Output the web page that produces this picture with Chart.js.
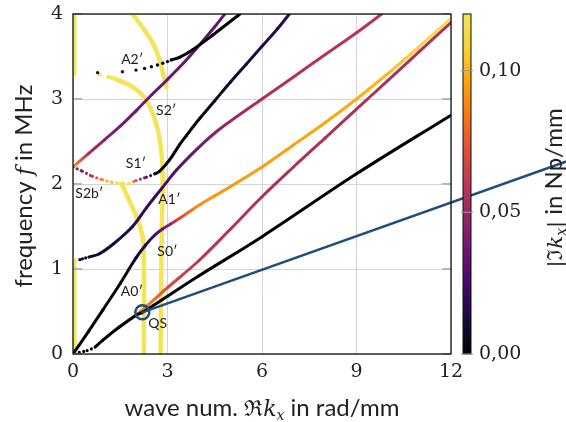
<!DOCTYPE html>
<html>
<head>
<meta charset="utf-8">
<script src="https://cdn.jsdelivr.net/npm/chart.js@4.4.1/dist/chart.umd.min.js"></script>
<style>
  html, body { margin: 0; padding: 0; background: #fff; }
  #wrap { width: 566px; height: 422px; }
</style>
</head>
<body>
<div id="wrap"><canvas id="chart"></canvas></div>
<script>
// ---- data: k = Re(kx) in rad/mm, f in MHz, att = |Im kx| in Np/mm ----
const xTicks = [0, 3, 6, 9, 12];
const yTicks = [0, 1, 2, 3, 4];
const cbTicks = [0, 0.05, 0.10];

// yellow (strongly damped) branches
const yLowK = [0.04, 0.04], yLowF = [0, 1.1], yLowAtt = [0.12, 0.12];
const yTopK = [0.04, 0.04], yTopF = [3.3, 4.0], yTopAtt = [0.12, 0.12];
const arcK = [1.89, 2.27, 2.56, 2.75, 2.87, 2.97];
const arcF = [4.0, 3.81, 3.64, 3.46, 3.28, 3.14];
const arcAtt = [0.12, 0.12, 0.12, 0.12, 0.12, 0.12];
const s2yK = [1.32, 1.9, 2.32, 2.64, 2.8, 2.85, 2.82, 2.8, 2.78];
const s2yF = [3.24, 3.14, 2.99, 2.71, 2.4, 2.01, 1.5, 0.8, 0];
const s2yAtt = [0.12, 0.12, 0.12, 0.12, 0.12, 0.12, 0.12, 0.12, 0.12];
const s2yDotK = [0.84, 1.12, 1.22], s2yDotF = [3.29, 3.26, 3.25], s2yDotAtt = [0.12, 0.12, 0.12];
const s0yK = [1.55, 1.73, 2.02, 2.21, 2.25, 2.25];
const s0yF = [2.0, 1.85, 1.61, 1.38, 1.14, 0];
const s0yAtt = [0.12, 0.12, 0.12, 0.12, 0.12, 0.12];

// S2' (from 2.2 MHz at k=0)
const s2K = [0, 0.5, 1, 1.5, 2, 2.5, 3, 3.5, 4, 4.5, 4.82];
const s2F = [2.2, 2.36, 2.52, 2.68, 2.86, 3.05, 3.23, 3.42, 3.63, 3.85, 4.0];
const s2Att = [0.09, 0.055, 0.045, 0.04, 0.038, 0.037, 0.036, 0.036, 0.035, 0.035, 0.035];

// S2b' dotted part, then S1'
const s2bK = [0, 0.3, 0.62, 0.94, 1.25, 1.48, 1.79, 2.0, 2.33, 2.6];
const s2bF = [2.2, 2.15, 2.09, 2.05, 2.02, 2.01, 2.01, 2.04, 2.08, 2.12];
const s2bAtt = [0.04, 0.045, 0.06, 0.09, 0.105, 0.12, 0.12, 0.07, 0.035, 0.01];
const s1K = [2.6, 2.75, 3.06, 3.38, 3.6, 4.02, 4.5, 5, 5.5, 6, 6.5, 6.87];
const s1F = [2.12, 2.15, 2.28, 2.46, 2.57, 2.77, 2.98, 3.2, 3.41, 3.62, 3.83, 4.0];
const s1Att = [0.005, 0, 0, 0, 0, 0.003, 0.006, 0.009, 0.012, 0.015, 0.017, 0.018];

// A2' : sparse solver points first, then a solid branch
const a2DotK = [0.78, 1.57, 2.0, 2.27, 2.49, 2.68, 2.85, 3.0, 3.12];
const a2DotF = [3.31, 3.32, 3.34, 3.36, 3.38, 3.40, 3.42, 3.44, 3.46];
const a2DotAtt = [0.016, 0.012, 0.009, 0.007, 0.005, 0.004, 0.003, 0.002, 0.002];
const a2K = [3.12, 3.38, 3.8, 4.43, 5.3];
const a2F = [3.46, 3.49, 3.58, 3.75, 4.0];
const a2Att = [0.002, 0.001, 0, 0, 0];

// A1'
const a1DotK = [0.22, 0.3, 0.4, 0.5];
const a1DotF = [1.11, 1.12, 1.13, 1.14];
const a1DotAtt = [0.005, 0.006, 0.007, 0.008];
const a1K = [0.5, 0.84, 1.3, 1.89, 2.33, 2.8, 3.3, 3.96, 4.5, 5, 6, 7, 8, 9, 9.8];
const a1F = [1.14, 1.18, 1.3, 1.5, 1.72, 1.94, 2.17, 2.42, 2.6, 2.74, 3.0, 3.26, 3.52, 3.78, 4.0];
const a1Att = [0.008, 0.01, 0.013, 0.016, 0.02, 0.024, 0.03, 0.038, 0.045, 0.05, 0.055, 0.057, 0.058, 0.058, 0.058];

// steep branch from the origin, turning orange past the damped branches
const s0K = [0, 0.5, 0.95, 1.5, 2.0, 2.3, 2.6, 2.84, 3.1, 3.4, 4.0, 4.5, 5, 6, 7, 8, 9, 10, 11, 12];
const s0F = [0, 0.27, 0.52, 0.83, 1.13, 1.28, 1.4, 1.47, 1.53, 1.6, 1.75, 1.86, 1.97, 2.2, 2.46, 2.72, 3.0, 3.3, 3.62, 3.95];
const s0Att = [0, 0, 0, 0.002, 0.008, 0.015, 0.025, 0.035, 0.05, 0.07, 0.09, 0.092, 0.093, 0.094, 0.095, 0.096, 0.098, 0.102, 0.11, 0.12];

// mode crossing the QS point (magenta)
const mK = [1.45, 2.2, 3, 4, 5, 6, 7, 8, 9, 10, 11, 12];
const mF = [0.31, 0.52, 0.78, 1.1, 1.47, 1.85, 2.2, 2.54, 2.88, 3.22, 3.56, 3.9];
const mAtt = [0.035, 0.09, 0.07, 0.06, 0.058, 0.056, 0.056, 0.056, 0.056, 0.056, 0.056, 0.056];

// QS (quasi-Scholte), black
const qsDotK = [0.2, 0.45, 0.7], qsDotF = [0.02, 0.04, 0.08], qsDotAtt = [0, 0, 0];
const qsK = [0.7, 0.94, 1.48, 2.02, 2.2, 3, 4, 6, 9, 12];
const qsF = [0.08, 0.16, 0.32, 0.46, 0.49, 0.68, 0.92, 1.38, 2.12, 2.81];
const qsAtt = [0, 0, 0, 0, 0, 0, 0, 0, 0, 0];

// marked point and pointer line leaving the plot
const markK = [2.2], markF = [0.49];
const pointerK = [2.2, 15.7], pointerF = [0.49, 2.27];

const labels = [
  ['A2′', 1.88, 3.46], ['S2′', 2.96, 2.87], ['S1′', 2.0, 2.24], ['S2b′', 0.52, 1.89],
  ['A1′', 3.06, 1.82], ['S0′', 3.0, 1.21], ['A0′', 1.87, 0.73], ['QS', 2.69, 0.36]
];

const attMax = 0.12;

// inferno-like colour map
const stops = [[0,0,4],[22,11,57],[66,10,104],[106,23,110],[147,38,103],[188,55,84],
               [221,81,58],[243,120,25],[252,165,10],[246,210,60],[243,228,88]];
function cmap(v) {
  let t = Math.max(0, Math.min(1, v / attMax)) * (stops.length - 1);
  let i = Math.min(stops.length - 2, Math.floor(t)), u = t - i;
  let a = stops[i], b = stops[i + 1];
  return `rgb(${Math.round(a[0]+(b[0]-a[0])*u)},${Math.round(a[1]+(b[1]-a[1])*u)},${Math.round(a[2]+(b[2]-a[2])*u)})`;
}

function pts(k, f) { return k.map((x, i) => ({x: x, y: f[i]})); }

function curve(k, f, att, opts) {
  return Object.assign({
    data: pts(k, f),
    showLine: true,
    pointRadius: 0,
    borderWidth: 3,
    borderCapStyle: 'round',
    borderJoinStyle: 'round',
    tension: 0.35,
    order: 5,
    segment: {
      borderColor: function(ctx) {
        let g = ctx.chart.ctx.createLinearGradient(ctx.p0.x, ctx.p0.y, ctx.p1.x, ctx.p1.y);
        g.addColorStop(0, cmap(att[ctx.p0DataIndex]));
        g.addColorStop(1, cmap(att[ctx.p1DataIndex]));
        return g;
      }
    }
  }, opts || {});
}

// densely sampled solver points drawn as a dotted line
function dotted(k, f, att, opts) {
  return curve(k, f, att, Object.assign({borderDash: [0, 4.5], borderWidth: 3.2}, opts || {}));
}

// sparse solver points drawn one by one
function markers(k, f, att, r, opts) {
  return Object.assign({
    data: pts(k, f), showLine: false, pointRadius: r, pointBorderWidth: 0,
    pointBackgroundColor: att.map(cmap), order: 5
  }, opts || {});
}

const yellowOpts = {borderWidth: 4.5, order: 10};

const datasets = [
  curve(pointerK, pointerF, [0, 0], {clip: false, order: 1, borderWidth: 2.5, tension: 0,
    segment: {}, borderColor: '#1f4e7a'}),
  {data: pts(markK, markF), pointRadius: 7, pointBorderWidth: 2.5, pointBorderColor: '#1f4e7a',
    pointBackgroundColor: 'rgba(0,0,0,0)', showLine: false, order: 0},
  curve(qsK, qsF, qsAtt),
  dotted(qsDotK, qsDotF, qsDotAtt),
  curve(mK, mF, mAtt),
  curve(s0K, s0F, s0Att),
  curve(a1K, a1F, a1Att),
  dotted(a1DotK, a1DotF, a1DotAtt),
  curve(a2K, a2F, a2Att),
  markers(a2DotK, a2DotF, a2DotAtt, 1.7),
  curve(s1K, s1F, s1Att),
  dotted(s2bK, s2bF, s2bAtt),
  curve(s2K, s2F, s2Att),
  curve(yLowK, yLowF, yLowAtt, yellowOpts),
  curve(yTopK, yTopF, yTopAtt, yellowOpts),
  curve(arcK, arcF, arcAtt, yellowOpts),
  curve(s2yK, s2yF, s2yAtt, yellowOpts),
  markers(s2yDotK, s2yDotF, s2yDotAtt, 2.2, {order: 10}),
  curve(s0yK, s0yF, s0yAtt, yellowOpts)
];

const tickFont = {family: "'DejaVu Serif', 'Liberation Serif', serif", size: 19};
const sansFam = "Lato, 'Open Sans', 'DejaVu Sans', sans-serif";
const serifFam = "'DejaVu Serif', 'Liberation Serif', serif";

// draws text made of pieces with their own fonts
function drawPieces(c, pieces, x, y, rot) {
  c.save();
  c.translate(x, y);
  c.rotate(rot);
  let total = 0;
  pieces.forEach(p => { c.font = p.font; p.w = c.measureText(p.t).width; total += p.w; });
  let px = -total / 2;
  c.textBaseline = 'alphabetic';
  c.fillStyle = '#222';
  pieces.forEach(p => { c.font = p.font; c.fillText(p.t, px, p.dy || 0); px += p.w; });
  c.restore();
}

const decorations = {
  id: 'decorations',
  afterDatasetsDraw(chart) {
    const c = chart.ctx, a = chart.chartArea;
    const xs = chart.scales.x, ys = chart.scales.y, cb = chart.scales.cb;
    // small inside ticks on the left and right frame
    c.save();
    c.strokeStyle = '#b5b5b5';
    c.lineWidth = 2;
    yTicks.forEach(v => {
      const py = ys.getPixelForValue(v);
      c.beginPath(); c.moveTo(a.left, py); c.lineTo(a.left + 9, py); c.stroke();
      c.beginPath(); c.moveTo(a.right - 9, py); c.lineTo(a.right, py); c.stroke();
    });
    // frame
    c.strokeStyle = '#111';
    c.lineWidth = 1.3;
    c.strokeRect(a.left, a.top, a.right - a.left, a.bottom - a.top);
    c.restore();
    // mode labels
    c.save();
    c.font = "14px " + sansFam;
    c.fillStyle = '#1a1a1a';
    c.textAlign = 'center';
    c.textBaseline = 'middle';
    labels.forEach(l => c.fillText(l[0], xs.getPixelForValue(l[1]), ys.getPixelForValue(l[2])));
    c.restore();
    // colour bar
    const bx = a.right + 12, bw = 8;
    const top = cb.getPixelForValue(attMax), bot = cb.getPixelForValue(0);
    c.save();
    for (let py = Math.floor(top); py < bot; py++) {
      c.fillStyle = cmap(cb.getValueForPixel(py + 0.5));
      c.fillRect(bx, py, bw, 1);
    }
    c.strokeStyle = '#111';
    c.lineWidth = 1;
    c.strokeRect(bx, top, bw, bot - top);
    c.strokeStyle = '#999';
    cbTicks.forEach(v => {
      const py = cb.getPixelForValue(v);
      c.beginPath(); c.moveTo(bx - 2, py); c.lineTo(bx + bw + 2, py); c.stroke();
    });
    c.restore();
    // axis titles
    drawPieces(c, [
      {t: 'wave num. ', font: '24px ' + sansFam},
      {t: 'ℜ', font: '22px ' + serifFam},
      {t: 'k', font: 'italic 22px ' + serifFam},
      {t: 'x', font: 'italic 14px ' + serifFam, dy: 4},
      {t: ' in rad/mm', font: '24px ' + sansFam}
    ], (a.left + a.right) / 2, 416, 0);
    drawPieces(c, [
      {t: 'frequency ', font: '24px ' + sansFam},
      {t: 'f', font: 'italic 22px ' + serifFam},
      {t: ' in MHz', font: '24px ' + sansFam}
    ], 32, 186, -Math.PI / 2);
    drawPieces(c, [
      {t: '|ℑ', font: '21px ' + serifFam},
      {t: 'k', font: 'italic 21px ' + serifFam},
      {t: 'x', font: 'italic 14px ' + serifFam, dy: 4},
      {t: '|', font: '21px ' + serifFam},
      {t: ' in Np/mm', font: '24px ' + sansFam}
    ], 562, 188, -Math.PI / 2);
  }
};

function noEdgePad(s) { s.paddingTop = 0; s.paddingBottom = 0; }

new Chart(document.getElementById('chart'), {
  type: 'scatter',
  data: {datasets: datasets},
  options: {
    responsive: true,
    maintainAspectRatio: false,
    animation: false,
    layout: {padding: {top: 14, left: 0, right: 0, bottom: 0}},
    plugins: {legend: {display: false}, tooltip: {enabled: false}},
    scales: {
      x: {
        type: 'linear', min: 0, max: 12,
        afterBuildTicks: s => { s.ticks = xTicks.map(v => ({value: v})); },
        afterFit: s => { s.height = 68; s.paddingLeft = 0; s.paddingRight = 0; },
        ticks: {font: tickFont, color: '#222', padding: 7, maxRotation: 0},
        grid: {color: '#d4d4d4', lineWidth: 1, drawTicks: false},
        border: {display: false}
      },
      y: {
        type: 'linear', min: 0, max: 4,
        afterBuildTicks: s => { s.ticks = yTicks.map(v => ({value: v})); },
        afterFit: s => { s.width = 73; noEdgePad(s); },
        ticks: {font: tickFont, color: '#222', padding: 10},
        grid: {color: '#d4d4d4', lineWidth: 1, drawTicks: false},
        border: {display: false}
      },
      cb: {
        type: 'linear', position: 'right', min: 0, max: attMax,
        afterBuildTicks: s => { s.ticks = cbTicks.map(v => ({value: v})); },
        afterFit: s => { s.width = 115; noEdgePad(s); },
        ticks: {font: tickFont, color: '#222', padding: 28,
          callback: v => v.toFixed(2).replace('.', ',')},
        grid: {display: false, drawTicks: false},
        border: {display: false}
      }
    }
  },
  plugins: [decorations]
});
</script>
</body>
</html>
